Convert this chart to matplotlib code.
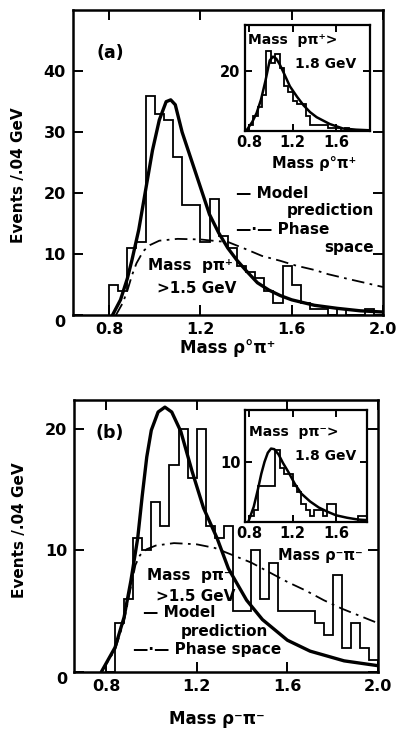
import numpy as np
import matplotlib.pyplot as plt

# ---- panel (a): rho0 pi+ , bins of 0.04 GeV from 0.80 to 2.00
edges_a = np.linspace(0.80, 2.00, 31)
counts_a = [5, 4, 11, 12, 36, 33, 32, 26, 18, 18,
            12, 19, 13, 11, 8, 7, 6, 4, 2, 8,
            5, 2, 1, 1, 0, 1, 0, 0, 1, 0]
model_a_m = [0.815, 0.85, 0.88, 0.90, 0.93, 0.96, 0.99, 1.02, 1.05, 1.07, 1.09,
             1.12, 1.16, 1.20, 1.24, 1.28, 1.32, 1.36, 1.40, 1.45, 1.50, 1.55,
             1.60, 1.70, 1.80, 1.90, 2.00]
model_a_v = [0, 2.5, 6, 9, 14, 20.5, 27, 32, 35, 35.3, 34.5,
             30, 25.5, 21, 16.5, 13.5, 11, 9, 7.3, 5.3, 4.1, 3.2,
             2.5, 1.6, 1.1, 0.7, 0.5]
phase_a_m = [0.83, 0.86, 0.88, 0.90, 0.92, 0.95, 0.98, 1.02, 1.10, 1.20, 1.28,
             1.32, 1.40, 1.47, 1.55, 1.62, 1.70, 1.76, 1.85, 1.92, 2.00]
phase_a_v = [0, 2, 4, 6.5, 8.5, 10.5, 11.5, 12.2, 12.5, 12.4, 12.1,
             12, 10.8, 9.7, 8.9, 8.1, 7.4, 6.7, 5.9, 5.3, 4.6]

# inset (a): mass p pi+ > 1.8 GeV
edges_ia = np.linspace(0.80, 1.92, 29)
counts_ia = [2, 5, 8, 12, 27, 23, 26, 21, 15, 13,
             10, 9, 9, 5, 2, 2, 2, 2, 1, 1,
             1, 0, 1, 0, 0, 0, 0, 0]
model_ia_m = [0.78, 0.83, 0.87, 0.91, 0.95, 0.99, 1.02, 1.05, 1.08, 1.115,
              1.175, 1.24, 1.30, 1.36, 1.42, 1.54, 1.66, 1.78, 1.90]
model_ia_v = [0.3, 3, 6, 10.5, 16.7, 23.7, 25, 24.3, 22.5, 19.8,
              15, 11.5, 8.6, 6.3, 4.6, 2.3, 0.8, 0.4, 0.2]

# ---- panel (b): rho- pi-
edges_b = np.linspace(0.80, 2.00, 31)
counts_b = [0, 4, 6, 11, 10, 14, 12, 17, 20, 16,
            20, 12, 11, 12, 5, 5, 10, 6, 9, 5,
            5, 5, 5, 4, 3, 8, 2, 4, 2, 1]
model_b_m = [0.78, 0.84, 0.88, 0.91, 0.94, 0.96, 0.98, 1.00, 1.03, 1.06, 1.09,
             1.13, 1.18, 1.23, 1.29, 1.34, 1.42, 1.49, 1.60, 1.70, 1.85, 2.00]
model_b_v = [0, 2, 4.5, 7.5, 11, 14.5, 17.7, 19.9, 21.4, 21.8, 21.4,
             19.8, 16.5, 13.5, 11, 8.5, 5.9, 4.3, 2.6, 1.7, 0.9, 0.5]
phase_b_m = [0.78, 0.84, 0.88, 0.91, 0.93, 0.95, 0.98, 1.02, 1.10, 1.20, 1.28,
             1.36, 1.44, 1.52, 1.60, 1.68, 1.76, 1.84, 1.92, 2.00]
phase_b_v = [0, 1.8, 4.2, 7, 8.8, 9.6, 10.1, 10.4, 10.6, 10.5, 10.2,
             9.6, 9.0, 8.2, 7.4, 6.7, 5.9, 5.2, 4.6, 4.0]

# inset (b): mass p pi- > 1.8 GeV
edges_ib = np.linspace(0.80, 1.88, 28)
counts_ib = [1, 2, 6, 6, 6, 6, 12, 9, 8, 8,
             6, 5, 3, 2, 1, 2, 2, 1, 3, 3,
             0, 0, 0, 0, 0, 1, 1]
model_ib_m = [0.79, 0.84, 0.88, 0.91, 0.94, 0.97, 1.00, 1.03, 1.07, 1.11,
              1.16, 1.22, 1.28, 1.36, 1.44, 1.52, 1.60, 1.70, 1.80, 1.88]
model_ib_v = [0, 2.5, 5.5, 8, 10, 11.5, 12.2, 12.1, 11.2, 9.8,
              8.3, 6.3, 4.7, 3.4, 2.4, 1.7, 1.1, 0.7, 0.4, 0.3]

plt.rcParams['font.family'] = 'DejaVu Sans'
plt.rcParams['font.weight'] = 'bold'
plt.rcParams['axes.labelweight'] = 'bold'
FS = 11.5

fig = plt.figure(figsize=(4.01, 7.31), dpi=100)


def style(ax, lw=1.8, ticklen=7, fs=FS):
    for s in ax.spines.values():
        s.set_linewidth(lw)
    ax.tick_params(direction='in', top=True, right=True, length=ticklen,
                   width=1.4, labelsize=fs, pad=5)


def draw(ax, edges, counts, mm, mv, pm=None, pv=None, lw_model=2.4):
    ax.stairs(counts, edges, color='black', lw=1.3, baseline=0)
    ax.plot(mm, mv, color='black', lw=lw_model, solid_capstyle='round')
    if pm is not None:
        ax.plot(pm, pv, color='black', lw=1.3, linestyle=(0, (7, 3, 1.5, 3)))


# ---------------- panel (a)
ax_a = fig.add_axes([0.181, 0.569, 0.774, 0.417])
draw(ax_a, edges_a, counts_a, model_a_m, model_a_v, phase_a_m, phase_a_v)
ax_a.set_xlim(0.64, 2.0)
ax_a.set_ylim(0, 50)
ax_a.set_xticks([0.8, 1.2, 1.6, 2.0])
ax_a.set_xticklabels(['0.8', '1.2', '1.6', '2.0'])
ax_a.set_yticks([0, 10, 20, 30, 40])
style(ax_a)
ax_a.get_yticklabels()[0].set_va('top')
ax_a.set_xlabel('Mass ρ°π⁺', fontsize=12)
ax_a.xaxis.set_label_coords(0.5, -0.08)
ax_a.set_ylabel('Events /.04 GeV', fontsize=11)
ax_a.yaxis.set_label_coords(-0.15, 0.46)
ax_a.text(0.745, 43, '(a)', fontsize=12.5, va='center')
ax_a.text(1.355, 20, '— Model', fontsize=11, va='center')
ax_a.text(1.96, 17.2, 'prediction', fontsize=11, va='center', ha='right')
ax_a.text(1.355, 14, '—·— Phase', fontsize=11, va='center')
ax_a.text(1.96, 11, 'space', fontsize=11, va='center', ha='right')
ax_a.text(0.97, 8.2, 'Mass  pπ⁺', fontsize=11, va='center')
ax_a.text(1.01, 4.4, '>1.5 GeV', fontsize=11, va='center')

ax_ia = fig.add_axes([0.610, 0.821, 0.313, 0.145])
draw(ax_ia, edges_ia, counts_ia, model_ia_m, model_ia_v, lw_model=1.8)
ax_ia.set_xlim(0.76, 1.91)
ax_ia.set_ylim(0, 35.7)
ax_ia.set_xticks([0.8, 1.2, 1.6])
ax_ia.set_xticklabels(['0.8', '1.2', '1.6'])
ax_ia.set_yticks([20])
style(ax_ia, lw=1.6, ticklen=5, fs=10.5)
ax_ia.tick_params(pad=3)
ax_ia.set_xlabel('Mass ρ°π⁺', fontsize=10.5, labelpad=1)
ax_ia.xaxis.set_label_coords(0.55, -0.24)
ax_ia.text(0.79, 30.5, 'Mass  pπ⁺>', fontsize=10, va='center')
ax_ia.text(1.22, 22.5, '1.8 GeV', fontsize=10, va='center')

# ---------------- panel (b)
ax_b = fig.add_axes([0.185, 0.081, 0.758, 0.372])
draw(ax_b, edges_b, counts_b, model_b_m, model_b_v, phase_b_m, phase_b_v)
ax_b.set_xlim(0.66, 2.0)
ax_b.set_ylim(0, 22.4)
ax_b.set_xticks([0.8, 1.2, 1.6, 2.0])
ax_b.set_xticklabels(['0.8', '1.2', '1.6', '2.0'])
ax_b.set_yticks([0, 10, 20])
style(ax_b)
ax_b.get_yticklabels()[0].set_va('top')
ax_b.set_xlabel('Mass ρ⁻π⁻', fontsize=12)
ax_b.xaxis.set_label_coords(0.47, -0.14)
ax_b.set_ylabel('Events /.04 GeV', fontsize=11)
ax_b.yaxis.set_label_coords(-0.155, 0.52)
ax_b.text(0.755, 19.7, '(b)', fontsize=12.5, va='center')
ax_b.text(0.98, 7.9, 'Mass  pπ⁻', fontsize=11, va='center')
ax_b.text(1.02, 6.2, '>1.5 GeV', fontsize=11, va='center')
ax_b.text(0.965, 4.9, '— Model', fontsize=11, va='center')
ax_b.text(1.13, 3.3, 'prediction', fontsize=11, va='center')
ax_b.text(0.92, 1.8, '—·— Phase space', fontsize=11, va='center')

ax_ib = fig.add_axes([0.611, 0.286, 0.303, 0.153])
draw(ax_ib, edges_ib, counts_ib, model_ib_m, model_ib_v, lw_model=1.8)
ax_ib.set_xlim(0.76, 1.88)
ax_ib.set_ylim(0, 18.6)
ax_ib.set_xticks([0.8, 1.2, 1.6])
ax_ib.set_xticklabels(['0.8', '1.2', '1.6'])
ax_ib.set_yticks([10])
style(ax_ib, lw=1.6, ticklen=5, fs=10.5)
ax_ib.tick_params(pad=3)
ax_ib.set_xlabel('Mass ρ⁻π⁻', fontsize=10.5, labelpad=1)
ax_ib.xaxis.set_label_coords(0.62, -0.23)
ax_ib.text(0.80, 14.9, 'Mass  pπ⁻>', fontsize=10, va='center')
ax_ib.text(1.22, 10.9, '1.8 GeV', fontsize=10, va='center')

fig.savefig('out.png', dpi=100)
